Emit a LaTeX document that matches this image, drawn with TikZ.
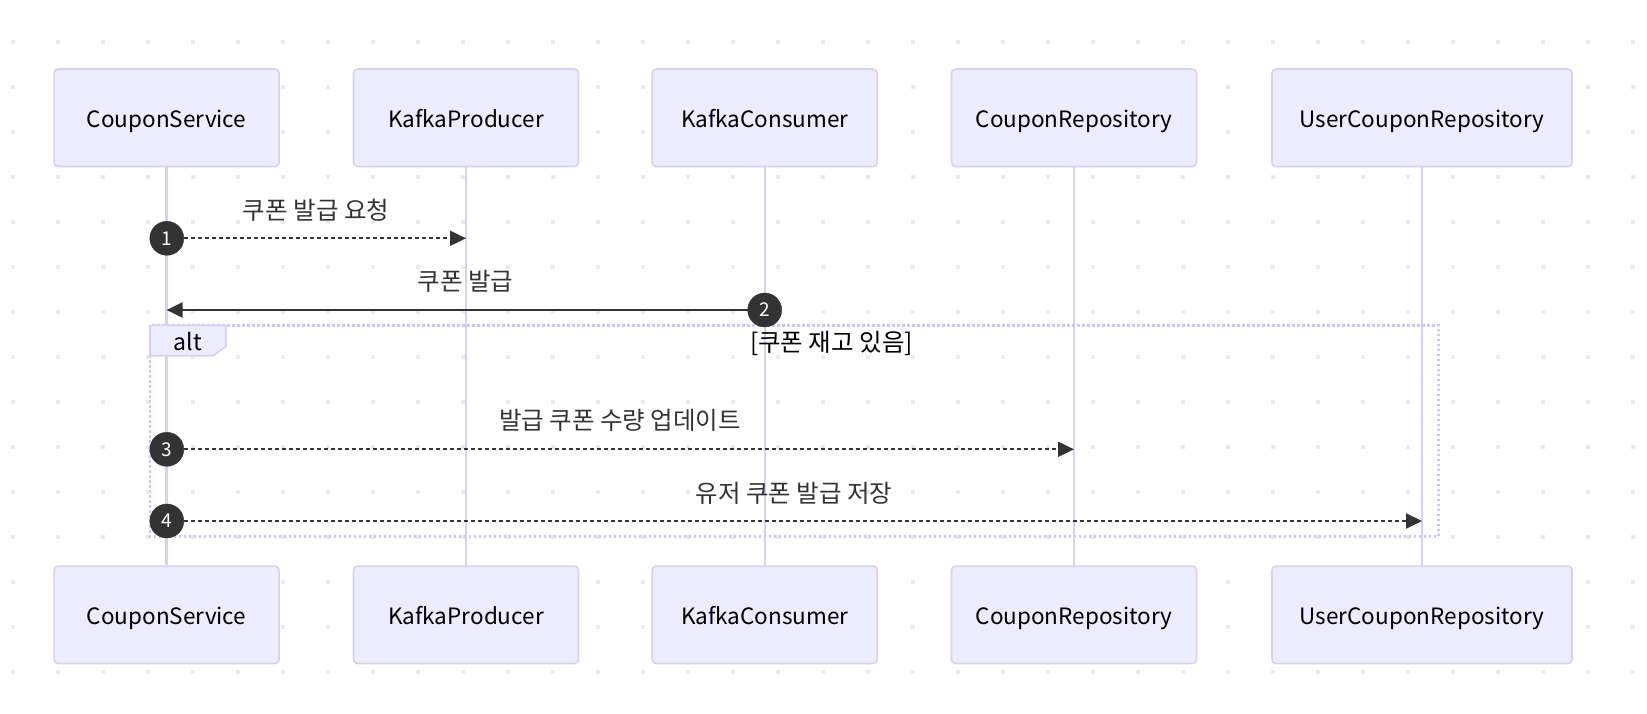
\documentclass[tikz,border=0pt]{standalone}
\usepackage{fontspec}
\setmainfont{Noto Sans CJK KR}
\usetikzlibrary{arrows.meta}
\definecolor{actfill}{HTML}{ECECFF}
\definecolor{actline}{HTML}{D9CFF3}
\definecolor{framec}{HTML}{D0C4F3}
\definecolor{dotc}{HTML}{EAEAEA}
\definecolor{msgc}{HTML}{333333}
\tikzset{
  actorbox/.style={draw=actline, line width=1.6pt, fill=actfill, rounded corners=4pt,
    minimum width=225pt, minimum height=97.5pt, inner sep=0pt,
    text height=20pt, text depth=0pt,
    font=\fontsize{22.5}{27}\selectfont, text=black},
  lifeline/.style={draw=actline, line width=2.4pt},
  msgdash/.style={draw=msgc, line width=2pt, dash pattern=on 4pt off 3pt,
    -{Triangle[length=16pt,width=15pt]}},
  msgsolid/.style={draw=msgc, line width=2.2pt, -{Triangle[length=16pt,width=15pt]}},
  seqnum/.style={circle, fill=msgc, draw=msgc, minimum size=34pt, inner sep=0pt,
    text=white, font=\fontsize{19}{22}\selectfont},
  msglabel/.style={font=\fontsize{24.5}{29}\selectfont, text=msgc, inner sep=0pt},
  framestyle/.style={draw=framec, line width=2.5pt, dash pattern=on 2.5pt off 2.5pt},
}
\begin{document}
\begin{tikzpicture}[x=1pt,y=-1pt]
\useasboundingbox[fill=white] (0,0) rectangle (1647,714);
% dot grid
\foreach \i in {0,...,36}{
  \foreach \j in {0,...,14}{
    \fill[dotc] ({13.3+45*\i-2},{41.7+45*\j-2}) rectangle +(4,4);
  }
}
% actors
\node[actorbox] (csT) at (166.6,117.8) {CouponService};
\node[actorbox] (kpT) at (466,117.8) {KafkaProducer};
\node[actorbox] (kcT) at (764.7,117.8) {KafkaConsumer};
\node[actorbox, minimum width=245pt] (crT) at (1074,117.8) {CouponRepository};
\node[actorbox, minimum width=300pt] (ucT) at (1422,117.8) {UserCouponRepository};
\node[actorbox] (csB) at (166.6,614.8) {CouponService};
\node[actorbox] (kpB) at (466,614.8) {KafkaProducer};
\node[actorbox] (kcB) at (764.7,614.8) {KafkaConsumer};
\node[actorbox, minimum width=245pt] (crB) at (1074,614.8) {CouponRepository};
\node[actorbox, minimum width=300pt] (ucB) at (1422,614.8) {UserCouponRepository};
% lifelines
\draw[lifeline] (csT.south) -- (csB.north);
\draw[lifeline] (kpT.south) -- (kpB.north);
\draw[lifeline] (kcT.south) -- (kcB.north);
\draw[lifeline] (crT.south) -- (crB.north);
\draw[lifeline] (ucT.south) -- (ucB.north);
% alt frame
\draw[framestyle] (150,325.3) rectangle (1438.7,536.5);
\draw[draw=actline, line width=1.6pt, fill=actfill]
  (150,325.3) -- (225.7,325.3) -- (225.7,346.7) -- (213.3,355.7) -- (150,355.7) -- cycle;
\node[font=\fontsize{23}{28}\selectfont, inner sep=0pt] (altlbl) at (188,341.5) {alt};
\node[font=\fontsize{24.5}{29}\selectfont, inner sep=0pt] (cond) at (831.5,343) {[쿠폰 재고 있음]};
% messages
\node[seqnum] (n1) at (166.8,238.3) {1};
\coordinate (e1) at (466,238.3);
\draw[msgdash] (n1) -- (e1);
\node[msglabel] (l1) at (316,210) {쿠폰 발급 요청};

\node[seqnum] (n2) at (764.7,310) {2};
\coordinate (e2) at (166.6,310);
\draw[msgsolid] (n2) -- (e2);
\node[msglabel] (l2) at (465.5,281.5) {쿠폰 발급};

\node[seqnum] (n3) at (166.8,449.3) {3};
\coordinate (e3) at (1074,449.3);
\draw[msgdash] (n3) -- (e3);
\node[msglabel] (l3) at (620,420) {발급 쿠폰 수량 업데이트};

\node[seqnum] (n4) at (166.8,521) {4};
\coordinate (e4) at (1422,521);
\draw[msgdash] (n4) -- (e4);
\node[msglabel] (l4) at (794,493) {유저 쿠폰 발급 저장};
\end{tikzpicture}
\end{document}
